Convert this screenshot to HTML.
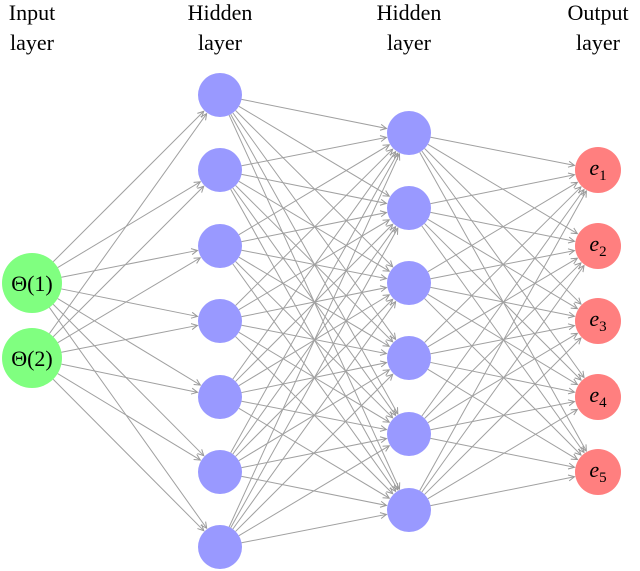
<!DOCTYPE html>
<html><head><meta charset="utf-8"><style>
html,body{margin:0;padding:0;background:#fff;width:640px;height:571px;overflow:hidden}
svg{display:block}
text{font-family:"Liberation Serif",serif;fill:#000}
</style></head><body>
<svg id="s" width="640" height="571" viewBox="0 0 640 571" xmlns="http://www.w3.org/2000/svg">
<defs><marker id="a" markerWidth="8" markerHeight="8" refX="7" refY="4" orient="auto" markerUnits="userSpaceOnUse"><path d="M1,1 L7,4 L1,7" fill="none" stroke="#999" stroke-width="1"/></marker></defs>
<g id="e" stroke="#a0a0a0" stroke-width="1" fill="none"></g>
<g id="n"></g>
<g font-size="22" text-anchor="middle">
<text x="32" y="20">Input</text><text x="32" y="50">layer</text>
<text x="220" y="20">Hidden</text><text x="220" y="50">layer</text>
<text x="409" y="20">Hidden</text><text x="409" y="50">layer</text>
<text x="598" y="20">Output</text><text x="598" y="50">layer</text>
</g>
</svg>
<script>
var L=[{x:32,r:30,c:"#80ff80",y:[283,358]},{x:220,r:22,c:"#9999ff",y:[95,170,246,321,397,472,547]},{x:409,r:22,c:"#9999ff",y:[133,208,283,358,434,510]},{x:598,r:23,c:"#ff7f7f",y:[170,246,321,397,472]}];
var ns="http://www.w3.org/2000/svg",E=document.getElementById("e"),N=document.getElementById("n");
for(var i=0;i<3;i++){var A=L[i],B=L[i+1];A.y.forEach(function(ya){B.y.forEach(function(yb){var dx=B.x-A.x,dy=yb-ya,d=Math.hypot(dx,dy),ux=dx/d,uy=dy/d;var l=document.createElementNS(ns,"line");l.setAttribute("x1",A.x+ux*A.r);l.setAttribute("y1",ya+uy*A.r);l.setAttribute("x2",B.x-ux*(B.r+1));l.setAttribute("y2",yb-uy*(B.r+1));l.setAttribute("marker-end","url(#a)");E.appendChild(l);});});}
L.forEach(function(A){A.y.forEach(function(y){var c=document.createElementNS(ns,"circle");c.setAttribute("cx",A.x);c.setAttribute("cy",y);c.setAttribute("r",A.r);c.setAttribute("fill",A.c);N.appendChild(c);});});
function t(x,y,s,sub,it){var e=document.createElementNS(ns,"text");e.setAttribute("x",x);e.setAttribute("y",y);e.setAttribute("font-size","22");e.setAttribute("text-anchor","middle");if(it){e.innerHTML='<tspan font-style="italic">e</tspan><tspan font-size="15" dy="5">'+sub+'</tspan>';}else e.textContent=s;N.appendChild(e);}
t(32,291,"Θ(1)");t(32,366,"Θ(2)");
[170,246,321,397,472].forEach(function(y,k){t(598,y+5,"",k+1,true);});
</script>
</body></html>
